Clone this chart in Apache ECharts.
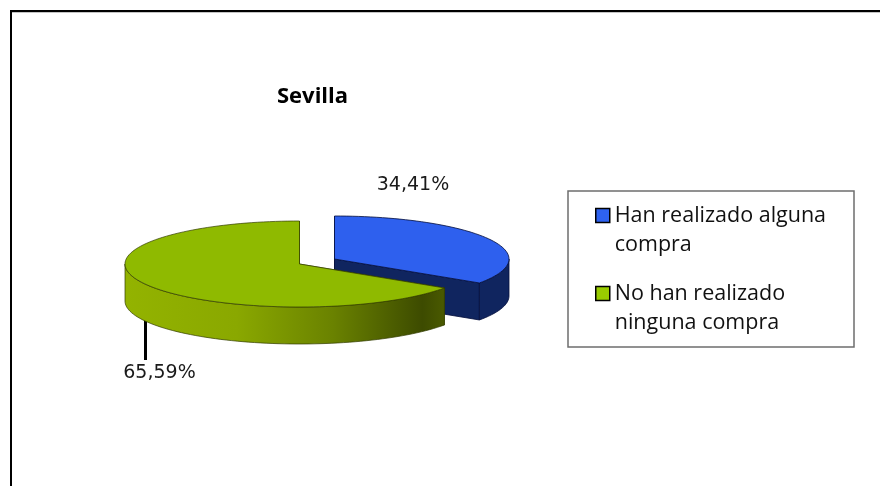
<!DOCTYPE html>
<html>
<head>
<meta charset="utf-8">
<style>html,body{margin:0;padding:0;background:#fff}#chart{width:880px;height:486px}</style>
<script src="https://cdn.jsdelivr.net/npm/echarts@6/dist/echarts.min.js"></script>
</head>
<body>
<div id="chart"></div>
<script>
const titleText = 'Sevilla';
const categories = ['Han realizado alguna compra', 'No han realizado ninguna compra'];
const legendLines = ['Han realizado alguna\ncompra', 'No han realizado\nninguna compra'];
const values = [34.41, 65.59];

// layout of the fake 3d pie
const centers = [[334.5, 259], [299.5, 264]];
const rx = 174.5, ry = 43, depth = 37;
const labelPos = [[413, 185], [159.5, 373]];
const total = values.reduce((a, b) => a + b, 0);

const topColors = ['#2e60ee', '#8fba00'];
const legendColors = ['#2e62f0', '#99cc00'];
const edgeColors = ['rgba(5,15,60,0.8)', 'rgba(50,60,0,0.7)'];
const wallStops = [[0, 1], [0, 0.35, 0.65, 0.93, 1]];
const wallColors = [
  ['#10255f', '#10255f'],
  ['#93b300', '#8aa800', '#6a8200', '#3d4b00', '#4a5a00']
];

function pt(c, deg, dy) {
  const a = deg * Math.PI / 180;
  return [c[0] + rx * Math.sin(a), c[1] - ry * Math.cos(a) + (dy || 0)];
}

function arc(c, from, to, dy) {
  const pts = [];
  const n = Math.max(2, Math.ceil(Math.abs(to - from) / 2));
  for (let i = 0; i <= n; i++) pts.push(pt(c, from + (to - from) * i / n, dy));
  return pts;
}

function renderSlice(params, api) {
  const i = params.seriesIndex;
  const start = values.slice(0, i).reduce((a, b) => a + b, 0) / total * 360;
  const end = start + api.value(0) / total * 360;
  const c = centers[i];
  const stroke = edgeColors[i];
  const wall = wallColors[i];
  const fill = new echarts.graphic.LinearGradient(0, 0, 1, 0,
    wall.map((color, k) => ({ offset: wallStops[i][k], color })));
  const children = [];

  // cut walls
  [start, end].forEach(deg => {
    const r = pt(c, deg);
    children.push({
      type: 'polygon',
      shape: { points: [c, r, [r[0], r[1] + depth], [c[0], c[1] + depth]] },
      style: { fill: wall[0], stroke, lineWidth: 1 }
    });
  });

  // curved outer wall, only the part facing the front
  const from = Math.max(start, 90), to = Math.min(end, 270);
  if (to > from) {
    const upper = arc(c, from, to);
    const lower = arc(c, to, from, depth);
    children.push({
      type: 'polygon',
      shape: { points: upper.concat(lower) },
      style: { fill, stroke, lineWidth: 1 }
    });
  }

  // top face
  children.push({
    type: 'polygon',
    shape: { points: [c].concat(arc(c, start, end)) },
    style: { fill: topColors[i], stroke, lineWidth: 1 }
  });

  // label
  children.push({
    type: 'text',
    style: {
      x: labelPos[i][0], y: labelPos[i][1],
      text: api.value(0).toFixed(2).replace('.', ',') + '%',
      font: '19px "DejaVu Sans"', fill: '#1a1a1a', align: 'center', verticalAlign: 'middle'
    }
  });
  return { type: 'group', children };
}

const chart = echarts.init(document.getElementById('chart'), null, { renderer: 'canvas' });
chart.setOption({
  animation: false,
  backgroundColor: '#fff',
  title: {
    text: titleText, left: 272, top: 81,
    textStyle: { fontFamily: 'Open Sans', fontWeight: 'bold', fontSize: 22, color: '#000' }
  },
  legend: {
    orient: 'vertical',
    left: 595, top: 172,
    padding: 0,
    selectedMode: false,
    icon: 'rect',
    itemWidth: 14, itemHeight: 14, itemGap: -9,
    itemStyle: { borderColor: '#000', borderWidth: 1.5 },
    // leading empty line keeps the marker beside the first text line
    formatter: name => '\n' + legendLines[categories.indexOf(name)],
    textStyle: { fontFamily: 'Open Sans', fontSize: 21.5, color: '#111', lineHeight: 29 },
    data: categories
  },
  graphic: [
    { type: 'rect', shape: { x: 10, y: 12, width: 870, height: 1 }, style: { fill: '#c4c4c4' } },
    { type: 'rect', shape: { x: 10, y: 10, width: 870, height: 2 }, style: { fill: '#000' } },
    { type: 'rect', shape: { x: 10, y: 10, width: 2, height: 476 }, style: { fill: '#000' } },
    { type: 'rect', shape: { x: 568, y: 191, width: 286, height: 156 }, style: { fill: 'none', stroke: '#6e6e6e', lineWidth: 1.5 } },
    { type: 'rect', shape: { x: 144, y: 318, width: 3, height: 42 }, style: { fill: '#000' } }
  ],
  series: categories.map((name, i) => ({
    type: 'custom',
    name,
    coordinateSystem: 'none',
    silent: true,
    itemStyle: { color: legendColors[i] },
    renderItem: renderSlice,
    data: [[values[i]]]
  }))
});
</script>
</body>
</html>
